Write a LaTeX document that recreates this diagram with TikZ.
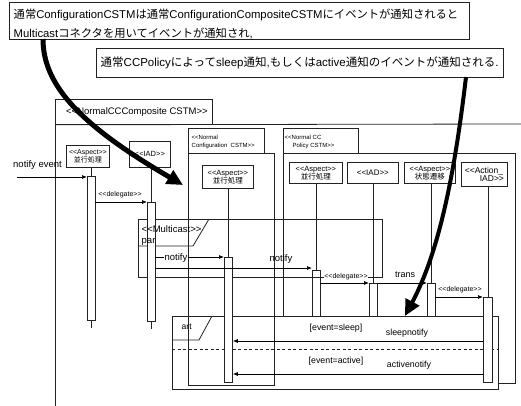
\documentclass[tikz,border=0pt]{standalone}
\usepackage{fontspec}
\setmainfont{Liberation Sans}[Ligatures=TeXOff]
\newfontfamily\jpf{Noto Sans CJK JP}
\usetikzlibrary{arrows.meta}
\newcommand\jp[1]{{\jpf #1}}
\newcommand\fs[1]{\fontsize{#1}{#1}\selectfont}
\definecolor{ink}{HTML}{222222}
\begin{document}
\begin{tikzpicture}[x=1pt,y=-1pt,
  ln/.style={line width=0.8pt, draw=ink},
  box/.style={draw=ink, line width=0.8pt, fill=white, inner sep=0pt, anchor=north west, align=center},
  obox/.style={draw=ink, line width=0.8pt, inner sep=0pt, anchor=north west},
  bar/.style={draw=ink, line width=0.8pt, fill=white, inner sep=0pt, anchor=north west, minimum width=7.5},
  lbl/.style={inner sep=0.5pt},
  msg/.style={line width=0.7pt, -{Latex[length=5pt,width=4pt]}},
  big/.style={line width=4.5pt, -{Triangle[length=16pt,width=15pt]}},
]
\useasboundingbox (0,0) rectangle (521,406);

% callout boxes
\node[box, minimum width=460, minimum height=37] (cb1) at (9,2) {};
\node[lbl, anchor=west, font=\fs{11.3}] (cb1a) at (13,15) {\jp{通常}ConfigurationCSTM\jp{は通常}ConfigurationCompositeCSTM\jp{にイベントが通知されると}};
\node[lbl, anchor=west, font=\fs{11.3}] (cb1b) at (13,33) {Multicast\jp{コネクタを用いてイベントが通知され},};
\node[box, minimum width=407, minimum height=29] (cb2) at (96,48) {};
\node[lbl, anchor=west, font=\fs{11.5}] (cb2a) at (100,63) {\jp{通常}CCPolicy\jp{によって}sleep\jp{通知},\jp{もしくは}active\jp{通知のイベントが通知される}.};

% outer frame
\node[box, minimum width=157, minimum height=25, font=\fs{9.5}] (cname) at (55,99) {\hspace*{6pt}<<NormalCCComposite CSTM>>};
\coordinate (fr) at (521,124);
\coordinate (fb) at (55,406);
\draw[ln] (cname.south west) -- (fr);
\draw[ln] (cname.north west) -- (fb);

% policy part
\node[obox, minimum width=232, minimum height=230] (polbody) at (283,153) {};
\node[box, minimum width=75, minimum height=25] (polname) at (283,128) {};
\node[lbl, anchor=west, font=\fs{6}] (pn1) at (284,137) {<<Normal CC};
\node[lbl, anchor=west, font=\fs{6}] (pn2) at (292,146) {Policy CSTM>>};
\node[box, minimum width=53, minimum height=21, font=\fs{7.5}] (a3) at (289,162) {<<Aspect>>\\[-1pt]\jp{並行処理}};
\node[box, minimum width=51, minimum height=21, font=\fs{8}] (i3) at (347,162) {<<IAD>>};
\node[box, minimum width=51, minimum height=21, font=\fs{7.5}] (s3) at (404,162) {<<Aspect>>\\[-1pt]\jp{状態遷移}};
\node[box, minimum width=46, minimum height=24, font=\fs{8.5}, align=left] (act) at (461,162) {<<Action\_\\[-1pt]\hspace*{15pt}IAD>>};
\node[bar, minimum height=110] (b4) at (312,270) {};
\node[bar, minimum height=97, minimum width=8] (b5) at (369,283) {};
\node[bar, minimum height=97] (b6) at (427,283) {};
\draw[ln] (b4.north |- a3.south) -- (b4.north);
\draw[ln] (b5.north |- i3.south) -- (b5.north);
\draw[ln] (b6.north |- s3.south) -- (b6.north);

% par frame
\node[obox, minimum width=244, minimum height=58] (par) at (138,219) {};
\coordinate (pt1) at (193,246);
\coordinate (pt2) at (209,219);
\draw[ln] (par.west |- pt1) -- (pt1) -- (pt2);

% left lifelines
\node[box, minimum width=43, minimum height=22, font=\fs{7}] (a1) at (66,145) {<<Aspect>>\\[-1pt]\jp{並行処理}};
\node[box, minimum width=41, minimum height=26, font=\fs{7.5}] (i1) at (129,141) {<<IAD>>};
\node[bar, minimum height=144] (b1) at (87,176) {};
\node[bar, minimum height=119] (b2) at (147,202) {};
\draw[ln] (b1.north |- a1.south) -- (b1.north);
\draw[ln] (b2.north |- i1.south) -- (b2.north);
\draw[ln] (b1.south) -- ++(0,7);
\draw[ln] (b2.south) -- ++(0,7);

% art frame
\node[box, minimum width=326, minimum height=73] (art) at (172,316) {};
\coordinate (at1) at (199,340);
\coordinate (at2) at (212,316);
\draw[ln] (art.west |- at1) -- (at1) -- (at2);
\node[lbl, anchor=west, font=\fs{8.5}] (artl) at (181,327) {art};
\coordinate (dsh) at (0,349);
\draw[ln, dashed, dash pattern=on 3pt off 2.5pt] (art.west |- dsh) -- (art.east |- dsh);

% configuration part
\node[obox, minimum width=86, minimum height=232] (cfgbody) at (188,153) {};
\node[box, minimum width=76, minimum height=25] (cfgname) at (188,128) {};
\node[lbl, anchor=west, font=\fs{6}] (cn1) at (191,137) {<<Normal};
\node[lbl, anchor=west, font=\fs{6}] (cn2) at (191,146) {Configuration\ \ CSTM>>};
\node[box, minimum width=51, minimum height=23, font=\fs{7.5}] (a2) at (202,165) {<<Aspect>>\\[-1pt]\jp{並行処理}};
\node[bar, minimum height=125, minimum width=8] (b3) at (224,257) {};
\draw[ln] (b3.north |- a2.south) -- (b3.north);

% par tag labels (on top)
\node[lbl, anchor=west, font=\fs{9.5}] (mc) at (141,229) {<<Multicast>>};
\node[lbl, anchor=west, font=\fs{9.5}] (pr) at (141,242) {par};

% action bar
\node[bar, minimum height=85, minimum width=9] (b7) at (483,297) {};
\draw[ln] (b7.north |- act.south) -- (b7.north);

% messages
\coordinate (ne) at (17,177);
\draw[msg] (ne) -- (ne -| b1.west);
\node[lbl, font=\fs{9.5}] (nel) at (37.5,165) {notify event};
\draw[msg] (b1.east |- b2.north) -- (b2.north west);
\node[lbl, font=\fs{7}] (dl1) at (120,195) {<<delegate>>};
\draw[msg] (b2.east |- b3.north) -- (b3.north west);
\node[lbl, fill=white, font=\fs{9.5}] (nt1) at (176,258) {notify};
\coordinate (n2y) at (0,268);
\draw[msg] (b2.east |- n2y) -- (b4.west |- n2y);
\node[lbl, font=\fs{9.5}] (nt2) at (281,259) {notify};
\draw[msg] (b4.east |- b5.north) -- (b5.north west);
\node[lbl, fill=white, font=\fs{7}] (dl2) at (346,277) {<<delegate>>};
\draw[msg] (b5.east |- b6.north) -- (b6.north west);
\node[lbl, font=\fs{9}] (tr) at (405,275) {trans};
\draw[msg] (b6.east |- b7.north) -- (b7.north west);
\node[lbl, font=\fs{7}] (dl3) at (460,290) {<<delegate>>};
\coordinate (sy) at (0,341);
\draw[msg] (b7.west |- sy) -- (b3.east |- sy);
\node[lbl, font=\fs{8.8}] (es) at (336,328) {[event=sleep]};
\node[lbl, font=\fs{8.8}] (sn) at (407,333) {sleepnotify};
\coordinate (ay) at (0,374);
\draw[msg] (b7.west |- ay) -- (b3.east |- ay);
\node[lbl, font=\fs{8.8}] (ea) at (336,361) {[event=active]};
\node[lbl, font=\fs{8.8}] (an) at (409,365) {activenotify};

% big arrows
\coordinate (t1) at (183,185);
\coordinate (s1) at (43,39);
\draw[big, line width=5pt] (s1) .. controls (43,85) and (80,125) .. (t1);
\coordinate (s2) at (466,77);
\coordinate (t2) at (405,316);
\draw[big, line width=4pt] (s2) .. controls (455,170) and (440,250) .. (t2);
\end{tikzpicture}
\end{document}
